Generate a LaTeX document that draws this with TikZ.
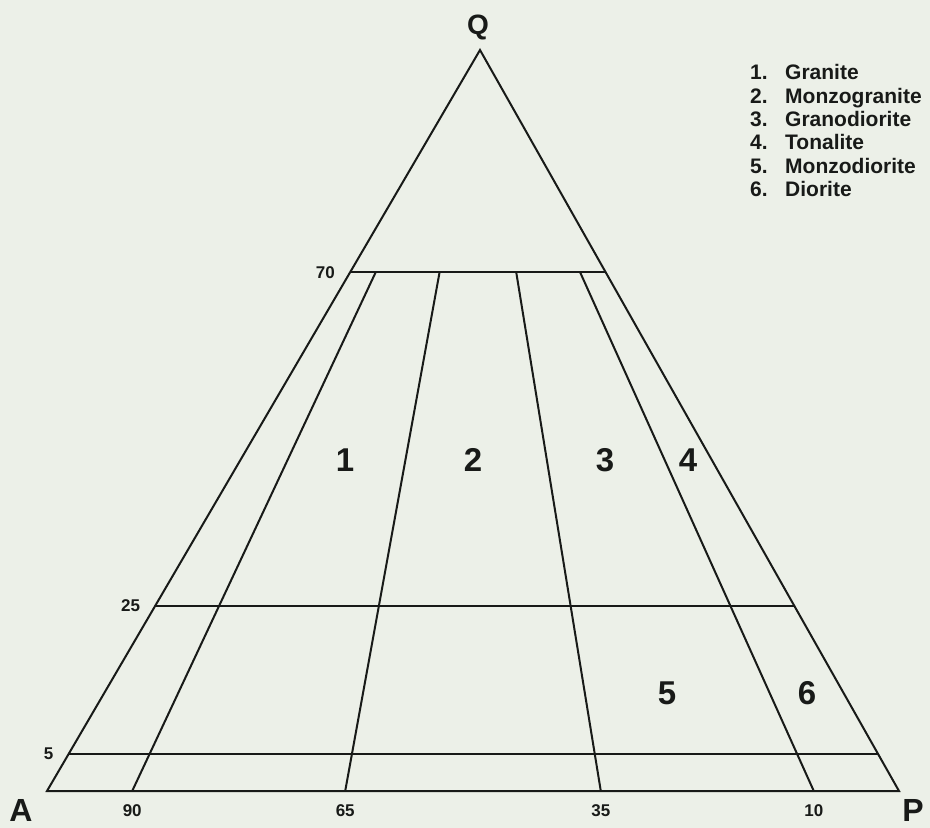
\documentclass[tikz,border=0pt]{standalone}
\usepackage{fontspec}
\setmainfont{Liberation Sans}
\usetikzlibrary{calc}

\definecolor{paper}{RGB}{236,240,232}
\definecolor{ink}{RGB}{24,26,24}

\begin{document}
\begin{tikzpicture}[
  x=1pt, y=-1pt,
  edge/.style={draw=ink, line width=2pt, line join=miter},
  apex/.style={text=ink, inner sep=0pt, font=\fontsize{32}{32}\selectfont\bfseries},
  tick/.style={text=ink, inner sep=0pt, font=\fontsize{17}{17}\selectfont\bfseries},
  field/.style={text=ink, inner sep=0pt, font=\fontsize{33}{33}\selectfont\bfseries},
  legend/.style={text=ink, inner sep=0pt, anchor=base west, font=\fontsize{21}{21}\selectfont\bfseries}
]

% --- paper, fixes the margins ---
\fill[paper] (0,0) rectangle (930,828);

% --- the QAP triangle ---
\coordinate (A) at (47,791);
\coordinate (P) at (899,791);
\coordinate (Q) at (480,50);
\draw[edge] (A) -- (P) -- (Q) -- cycle;

% Q levels: 70, 25 and 5 per cent
\coordinate (l70) at ($(A)!0.70!(Q)$);  \coordinate (r70) at ($(P)!0.70!(Q)$);
\coordinate (l25) at ($(A)!0.25!(Q)$);  \coordinate (r25) at ($(P)!0.25!(Q)$);
\coordinate (l5)  at ($(A)!0.05!(Q)$);  \coordinate (r5)  at ($(P)!0.05!(Q)$);
\draw[edge] (l70) -- (r70);
\draw[edge] (l25) -- (r25);
\draw[edge] (l5)  -- (r5);

% A/(A+P) ratios, running up towards Q and stopping at the 70 line
\coordinate (b90) at ($(A)!0.10!(P)$);  \coordinate (t90) at ($(b90)!0.70!(Q)$);
\coordinate (b65) at ($(A)!0.35!(P)$);  \coordinate (t65) at ($(b65)!0.70!(Q)$);
\coordinate (b35) at ($(A)!0.65!(P)$);  \coordinate (t35) at ($(b35)!0.70!(Q)$);
\coordinate (b10) at ($(A)!0.90!(P)$);  \coordinate (t10) at ($(b10)!0.70!(Q)$);
\draw[edge] (b90) -- (t90);
\draw[edge] (b65) -- (t65);
\draw[edge] (b35) -- (t35);
\draw[edge] (b10) -- (t10);

% --- corner labels ---
\node[apex, font=\fontsize{28}{28}\selectfont\bfseries] (labQ) at (478,27) {Q};
\node[apex] (labA) at (21,810) {A};
\node[apex] (labP) at (913,810) {P};

% --- tick values ---
\node[tick, anchor=east, xshift=-15pt] (v70) at (l70) {70};
\node[tick, anchor=east, xshift=-15pt] (v25) at (l25) {25};
\node[tick, anchor=east, xshift=-15pt] (v5)  at (l5)  {5};
\node[tick, anchor=north, yshift=-13pt] (v90) at (b90) {90};
\node[tick, anchor=north, yshift=-13pt] (v65) at (b65) {65};
\node[tick, anchor=north, yshift=-13pt] (v35) at (b35) {35};
\node[tick, anchor=north, yshift=-13pt] (v10) at (b10) {10};

% --- fields ---
\node[field] (f1) at (345,460) {1};
\node[field] (f2) at (473,460) {2};
\node[field] (f3) at (605,460) {3};
\node[field] (f4) at (688,460) {4};
\node[field] (f5) at (667,693) {5};
\node[field] (f6) at (807,693) {6};

% --- key ---
\node[legend] (n1) at (750,79)  {1.};  \node[legend] (k1) at (785,79)  {Granite};
\node[legend] (n2) at (750,103) {2.};  \node[legend] (k2) at (785,103) {Monzogranite};
\node[legend] (n3) at (750,126) {3.};  \node[legend] (k3) at (785,126) {Granodiorite};
\node[legend] (n4) at (750,149) {4.};  \node[legend] (k4) at (785,149) {Tonalite};
\node[legend] (n5) at (750,173) {5.};  \node[legend] (k5) at (785,173) {Monzodiorite};
\node[legend] (n6) at (750,196) {6.};  \node[legend] (k6) at (785,196) {Diorite};

\end{tikzpicture}
\end{document}
